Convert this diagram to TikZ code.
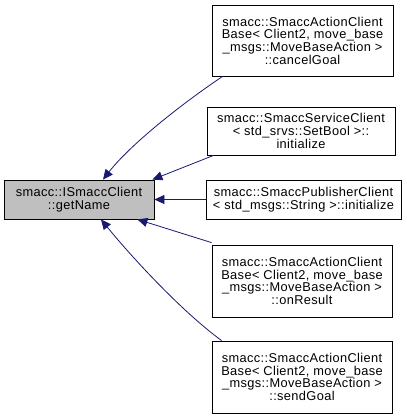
\documentclass[tikz,border=0pt]{standalone}
\usepackage{fontspec}
\setmainfont[LetterSpace=3]{Liberation Sans}
\usepackage{xcolor}
\usepackage{tikz}
\usetikzlibrary{arrows.meta,positioning}
\definecolor{callblue}{HTML}{191970}
\definecolor{nodegray}{HTML}{BFBFBF}

\begin{document}
\begin{tikzpicture}[x=1pt, y=-1pt,
        fn/.style={draw, line width=0.8pt, rectangle, align=center, inner sep=0pt,
            font=\fontsize{12.8}{12.7}\selectfont},
        call/.style={draw=callblue, line width=0.8pt, -{Triangle[length=10pt,width=9pt]}}]
        \useasboundingbox (0,0) rectangle (407,416);

        % Called function
        \node[fn, fill=nodegray, minimum width=150pt, minimum height=39pt] (getname) at (79,199.5)
            {smacc::ISmaccClient\\::getName};

        % Callers
        \node[fn, minimum width=181pt, minimum height=71pt] (cancel) at (302.5,40.5)
            {smacc::SmaccActionClient\\Base< Client2, move\_base\\\_msgs::MoveBaseAction >\\::cancelGoal};
        \node[fn, minimum width=188pt, minimum height=48pt] (service) at (301,131)
            {smacc::SmaccServiceClient\\< std\_srvs::SetBool >::\\initialize};
        \node[fn, minimum width=195pt, minimum height=39pt] (publisher) at (303.5,199.5)
            {smacc::SmaccPublisherClient\\< std\_msgs::String >::initialize};
        \node[fn, minimum width=180pt, minimum height=72pt] (onresult) at (302,281)
            {smacc::SmaccActionClient\\Base< Client2, move\_base\\\_msgs::MoveBaseAction >\\::onResult};
        \node[fn, minimum width=180pt, minimum height=72pt] (sendgoal) at (302,377)
            {smacc::SmaccActionClient\\Base< Client2, move\_base\\\_msgs::MoveBaseAction >\\::sendGoal};

        % Call edges
        \draw[call] ([xshift=11pt]cancel.south west) .. controls (180,105) and (130,145) .. ([xshift=24pt]getname.north);
        \draw[call] ([xshift=7pt]service.south west) -- ([xshift=-2pt]getname.north east);
        \draw[call] (publisher) -- (getname);
        \draw[call] ([yshift=2pt]onresult.north west) -- ([xshift=-17pt]getname.south east);
        \draw[call] ([xshift=10pt]sendgoal.north west) .. controls (180,310) and (130,255) .. ([xshift=22pt]getname.south);
    \end{tikzpicture}
\end{document}
